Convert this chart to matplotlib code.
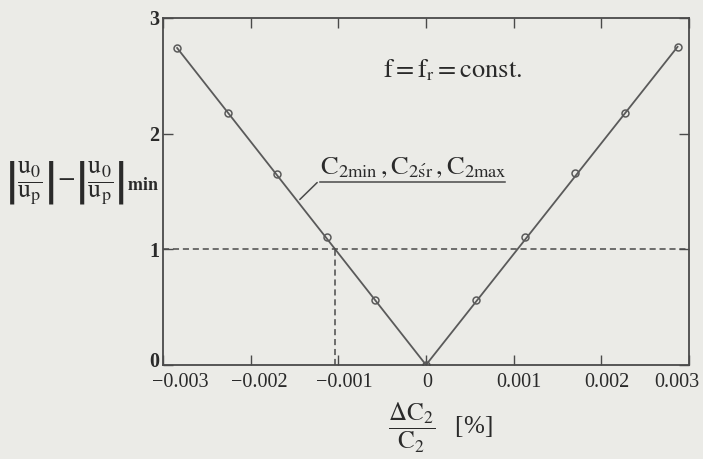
import matplotlib
matplotlib.use("Agg")
import matplotlib.pyplot as plt
from matplotlib.transforms import ScaledTranslation

plt.rcParams['font.family'] = ['Liberation Serif', 'DejaVu Serif']
plt.rcParams['mathtext.fontset'] = 'stix'

# relative change of C2 [%] and the resulting deviation of |u0/up|
dc = [-0.00284, -0.00226, -0.00170, -0.00113, -0.00058, 0.0,
      0.00057, 0.00113, 0.00170, 0.00227, 0.00287]
du = [2.74, 2.18, 1.65, 1.11, 0.56, 0.0,
      0.56, 1.11, 1.66, 2.18, 2.75]

xticks = [-0.003, -0.002, -0.001, 0, 0.001, 0.002, 0.003]
xlabels = ['\u22120.003', '\u22120.002', '\u22120.001', '0', '0.001', '0.002', '0.003']
yticks = [0, 1, 2, 3]

# reference level and the matching tolerance on the axis
level = 1.0
dc_at_level = -0.00104

bg = '#ebebe7'
ink = '#4a4a4a'
txt = '#2a2a2a'

fig = plt.figure(figsize=(7.03, 4.59), dpi=100, facecolor=bg)
ax = fig.add_axes([0.232, 0.205, 0.748, 0.756], facecolor=bg)

ax.plot([dc[0], dc[5], dc[-1]], [du[0], du[5], du[-1]], color='#5a5a5a', lw=1.3)
ax.plot(dc, du, ls='none', marker='o', ms=5, mfc='none', mec='#5a5a5a', mew=1.1)

ax.plot([-0.003, 0.003], [level, level], ls=(0, (4, 2.5)), color=ink, lw=1.1)
ax.plot([dc_at_level, dc_at_level], [0, level], ls=(0, (4, 2.5)), color=ink, lw=1.1)

ax.set_xlim(-0.003, 0.003)
ax.set_ylim(0, 3)
ax.set_xticks(xticks)
ax.set_xticklabels(xlabels)
ax.set_yticks(yticks)
ax.tick_params(direction='in', top=True, right=True, length=7, width=1,
               color=ink, labelsize=14.5, labelcolor=txt)
ax.tick_params(axis='x', pad=6)
ax.tick_params(axis='y', pad=3)
for tl in ax.get_yticklabels():
    tl.set_fontweight('bold')
ax.get_yticklabels()[0].set_transform(
    ax.get_yticklabels()[0].get_transform() + ScaledTranslation(0, 0.05, fig.dpi_scale_trans))

# nudge the bottom labels: minus signs hang left, last label stays inside
shifts = [0.17, 0.09, 0.06, 0.01, 0.05, 0.06, -0.12]
for tl, dx in zip(ax.get_xticklabels(), shifts):
    tl.set_transform(tl.get_transform() + ScaledTranslation(dx, 0, fig.dpi_scale_trans))

for s in ax.spines.values():
    s.set_color(ink)
    s.set_linewidth(1.3)

ax.text(0.0003, 2.55, r'$\mathrm{f = f_r = const.}$', fontsize=19, color=txt,
        ha='center', va='center')

# curve annotation with leader line and underline
ax.annotate(r'$\mathrm{C_{2min}\,,C_{2\acute{s}r}\,,C_{2max}}$',
            xy=(-0.00144, 1.43), xytext=(-0.00121, 1.6),
            fontsize=19, color=txt, ha='left', va='bottom',
            arrowprops=dict(arrowstyle='-', color=ink, lw=1.1, shrinkA=0, shrinkB=0,
                            relpos=(0, 0)))
ax.plot([-0.00121, 0.0009], [1.58, 1.58], color=ink, lw=1.1, clip_on=False)

fig.text(0.007, 0.60,
         r'$\left|\dfrac{\mathrm{u_0}}{\mathrm{u_p}}\right|\!-\!\left|\dfrac{\mathrm{u_0}}{\mathrm{u_p}}\right|_{\mathbf{min}}$',
         fontsize=18.5, color=txt, ha='left', va='center')

fig.text(0.626, 0.067, r'$\dfrac{\Delta \mathrm{C_2}}{\mathrm{C_2}}$   [%]',
         fontsize=18, color=txt, ha='center', va='center')

fig.savefig('out.png', dpi=100, facecolor=bg)
